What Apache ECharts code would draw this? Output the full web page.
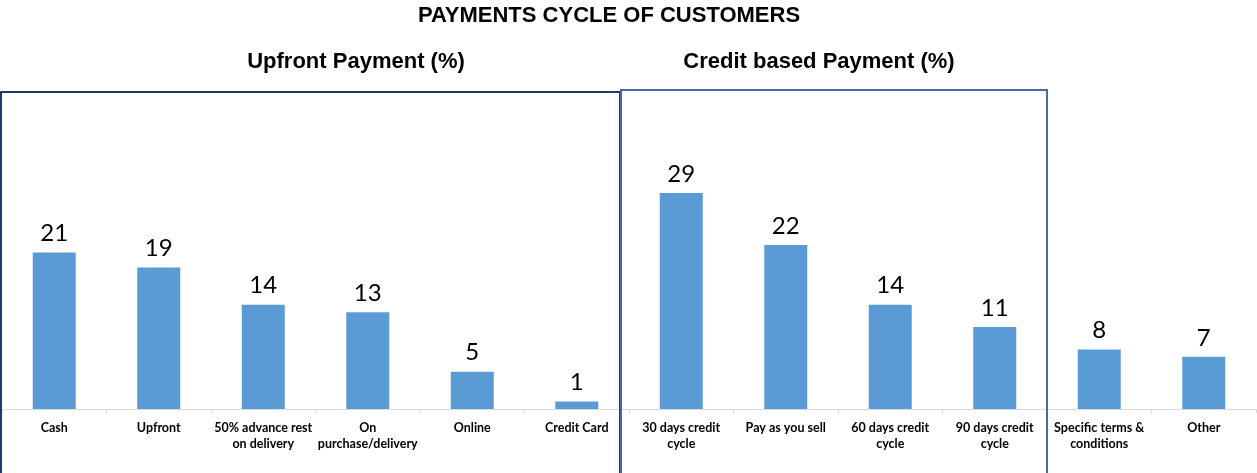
<!DOCTYPE html>
<html>
<head>
<meta charset="utf-8">
<script src="https://cdn.jsdelivr.net/npm/echarts@6/dist/echarts.min.js"></script>
<style>
html,body{margin:0;padding:0;background:#fff;}
#chart{width:1257px;height:473px;}
</style>
</head>
<body>
<div id="chart"></div>
<script>
const categories = [
  "Cash", "Upfront", "50% advance rest\non delivery", "On\npurchase/delivery", "Online", "Credit Card",
  "30 days credit\ncycle", "Pay as you sell", "60 days credit\ncycle", "90 days credit\ncycle",
  "Specific terms &\nconditions", "Other"
];
const values = [21, 19, 14, 13, 5, 1, 29, 22, 14, 11, 8, 7];
const title = "PAYMENTS CYCLE OF CUSTOMERS";
const groupTitles = ["Upfront Payment (%)", "Credit based Payment (%)"];

const chart = echarts.init(document.getElementById('chart'));
chart.setOption({
  animation: false,
  title: [
    { text: title, left: 604, top: 0, textAlign: 'center',
      textStyle: { fontFamily: 'Liberation Sans', fontWeight: 'bold', fontSize: 22, color: '#000' } },
    { text: groupTitles[0], left: 351, top: 46, textAlign: 'center',
      textStyle: { fontFamily: 'Liberation Sans', fontWeight: 'bold', fontSize: 22, color: '#000' } },
    { text: groupTitles[1], left: 814, top: 46, textAlign: 'center',
      textStyle: { fontFamily: 'Liberation Sans', fontWeight: 'bold', fontSize: 22, color: '#000' } }
  ],
  grid: { left: 2, right: 1, top: 111, bottom: 64 },
  xAxis: {
    type: 'category',
    data: categories,
    axisLine: { lineStyle: { color: '#d9d9d9', width: 1 } },
    axisTick: { show: true, length: 4, lineStyle: { color: '#d9d9d9' } },
    axisLabel: {
      interval: 0, margin: 11, color: '#000', fontFamily: 'Lato', fontWeight: 'bold',
      fontSize: 12.5, lineHeight: 16
    }
  },
  yAxis: { type: 'value', min: 0, max: 40, show: false, splitLine: { show: false } },
  series: [{
    type: 'bar',
    data: values,
    barWidth: 43,
    itemStyle: { color: '#5b9bd5' },
    label: { show: true, position: 'top', distance: 7, color: '#000', fontFamily: 'Lato', fontSize: 24 }
  }],
  graphic: [
    { type: 'rect', shape: { x: 1, y: 92, width: 619, height: 420 },
      style: { fill: 'none', stroke: '#1f3a6e', lineWidth: 2 }, z: 10 },
    { type: 'rect', shape: { x: 621, y: 90, width: 426, height: 420 },
      style: { fill: 'none', stroke: '#4a66ad', lineWidth: 2 }, z: 10 }
  ]
});
</script>
</body>
</html>
